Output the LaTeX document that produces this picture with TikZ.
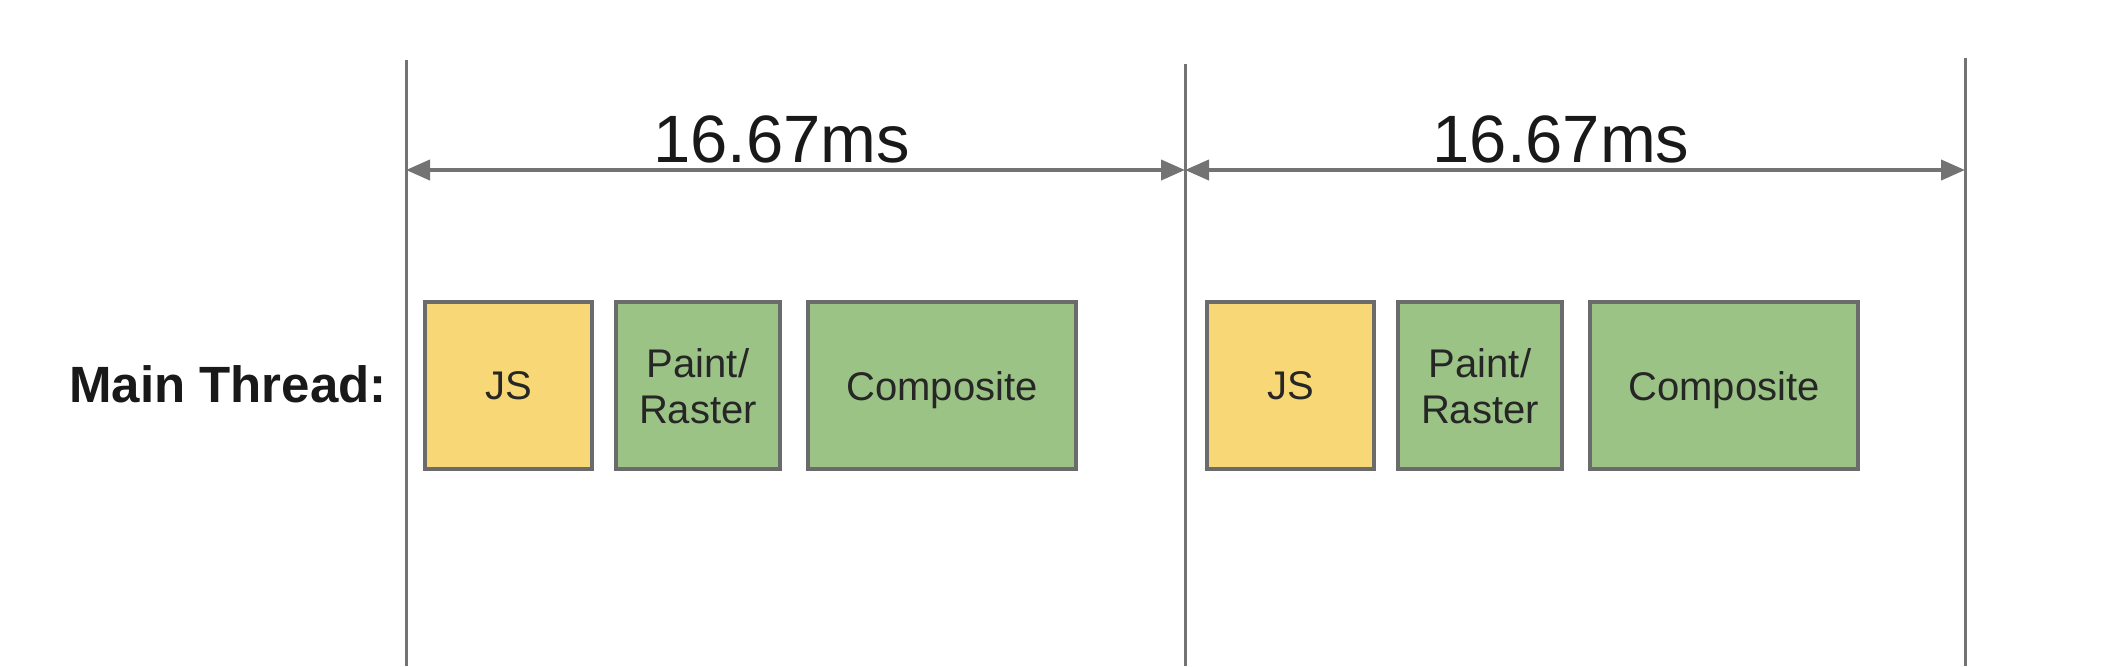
\documentclass[tikz,border=0pt]{standalone}
\usepackage{fontspec}
\setmainfont{Liberation Sans}
\usetikzlibrary{arrows.meta}
\definecolor{jsyellow}{HTML}{F8D776}
\definecolor{taskgreen}{HTML}{9BC385}
\definecolor{edgegray}{HTML}{6B6B6B}
\definecolor{linegray}{HTML}{737373}

\begin{document}
\begin{tikzpicture}[x=0.5pt, y=-0.5pt, >={Triangle[length=12pt,width=10pt]}]
		\useasboundingbox (0,0) rectangle (2122,666);
		\tikzset{
			every task/.style={draw=edgegray, line width=2pt, minimum height=83.5pt, inner sep=0pt, outer sep=0pt,
				anchor=west, align=center, text depth=0pt, font=\fontsize{20}{23}\selectfont, text=black!85},
			task js/.style={fill=jsyellow},
			task paint/.style={fill=taskgreen},
			task comp/.style={fill=taskgreen}
		}
		
		\foreach \x/\t [count=\i] in {406/60, 1185/64, 1965/58}
		{
		\coordinate (top-\i) at (\x,\t);
		\coordinate (bot-\i) at (\x,666);
		\coordinate (tick-\i) at (\x,170);
		\draw [linegray, line width=1.5pt] (top-\i) -- (bot-\i);
		}
		
		\foreach \i/\j in {1/2,2/3}
		\draw [<->, linegray, line width=2pt] (tick-\i) -- (tick-\j)
		node [midway, anchor=base, yshift=4pt, xshift=-7pt, inner sep=0pt, text=black!90,
			font=\fontsize{33.5}{36}\selectfont] (span-\i) {16.67ms};
		
		\node [anchor=base east, inner sep=0pt, text=black!90, font=\bfseries\fontsize{25.5}{30}\selectfont]
		(thread) at (387,402) {Main Thread:};
		
		\foreach \off [count=\f] in {0,782}
		\foreach \m/\x/\w/\l in {js/425/83.5/JS, paint/616/82/{Paint/\\Raster}, comp/808/134/Composite}
		\node [every task, task \m, minimum width=\w pt] (\m-\f) at (\x+\off,385.5) {\l};
		
	\end{tikzpicture}
\end{document}
